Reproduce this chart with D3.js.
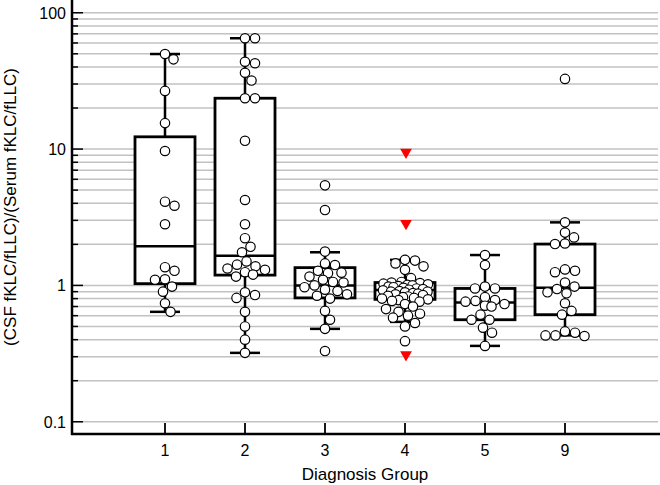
<!DOCTYPE html>
<html>
<head>
<meta charset="utf-8">
<script src="https://cdn.jsdelivr.net/npm/d3@7"></script>
<style>
body { margin: 0; background: #fff; }
text { font-family: Arial, "Liberation Sans", sans-serif; fill: #000; }
</style>
</head>
<body>
<svg id="chart" width="660" height="485"></svg>
<script>
// categories and tick labels
var groups = ['1', '2', '3', '4', '5', '9'];
var yTicks = [0.1, 1, 10, 100];
var yTickLabels = ['0.1', '1', '10', '100'];

// individual ratios
var g1 = [49.8, 45.5, 26.7, 15.5, 9.68, 4.11, 3.84, 2.81, 1.36, 1.28, 1.11, 1.10, 0.98, 0.90, 0.74, 0.64];
var g2 = [65, 65, 43.7, 42.6, 36.3, 31.8, 23.6, 23.6, 11.5, 4.23, 2.81, 2.22, 1.92, 1.75, 1.50, 1.42, 1.38, 1.33,
          1.30, 1.25, 1.20, 1.16, 0.89, 0.85, 0.81, 0.64, 0.50, 0.40, 0.32];
var g3 = [5.42, 3.57, 1.77, 1.45, 1.41, 1.28, 1.24, 1.23, 1.16, 1.10, 1.06, 1.05, 1.0, 0.97, 0.93, 0.91, 0.86,
          0.84, 0.80, 0.65, 0.56, 0.48, 0.33];
var g4 = [1.54, 1.52, 1.45, 1.38, 1.30, 1.13, 1.06, 1.05, 1.04, 1.03, 1.02, 1.01, 1.0, 0.99, 0.98, 0.97, 0.96,
          0.95, 0.94, 0.93, 0.92, 0.91, 0.90, 0.90, 0.89, 0.88, 0.87, 0.86, 0.85, 0.84, 0.83, 0.82, 0.81, 0.80,
          0.79, 0.78, 0.77, 0.76, 0.73, 0.70, 0.67, 0.64, 0.62, 0.60, 0.58, 0.53, 0.50, 0.39];
var g5 = [1.67, 1.41, 0.98, 0.95, 0.95, 0.82, 0.78, 0.77, 0.76, 0.73, 0.71, 0.70, 0.61, 0.56, 0.56, 0.49, 0.45, 0.36];
var g9 = [32.7, 2.90, 2.44, 2.25, 2.03, 2.01, 1.31, 1.28, 1.25, 1.05, 0.98, 0.94, 0.89, 0.875, 0.74, 0.65, 0.61,
          0.46, 0.45, 0.43, 0.43, 0.425];
var values = [g1, g2, g3, g4, g5, g9];

// box plot statistics per group
var whiskLo = [0.64, 0.32, 0.48, 0.54, 0.36, 0.43];
var q1 = [1.03, 1.19, 0.81, 0.79, 0.56, 0.61];
var median = [1.94, 1.65, 1.0, 0.925, 0.75, 0.96];
var q3 = [12.3, 23.6, 1.35, 1.05, 0.95, 2.01];
var whiskHi = [49.8, 65, 1.75, 1.54, 1.67, 2.90];

// red markers in group 4
var flagGroup = '4';
var flagged = [9.5, 2.85, 0.31];

var svg = d3.select('#chart');
var plotL = 72, plotR = 658, plotB = 434, plotT = 0;

var x = d3.scalePoint().domain(groups).range([plotL, plotR]).padding(1.1625);
var y = d3.scaleLog().domain([0.0813, 124]).range([plotB, plotT]);

var r = 4.7;

//grid lines (1..9 per decade)
var gridVals = y.ticks().filter(d => d >= 0.1 - 1e-9);
svg.append('g').attr('class', 'grid')
	.selectAll('line').data(gridVals).enter().append('line')
		.attr('x1', plotL).attr('x2', plotR)
		.attr('y1', d => y(d)).attr('y2', d => y(d))
		.style('stroke', '#c2c2c2')
		.style('stroke-width', 1.5);

//boxes
var boxW = 60, capW = 30;
var g_box = svg.append('g').attr('class', 'boxes');
groups.forEach(function(grp, i) {
	var cx = x(grp);
	g_box.append('line')
		.attr('x1', cx).attr('x2', cx)
		.attr('y1', y(whiskLo[i])).attr('y2', y(whiskHi[i]))
		.style('stroke', '#000').style('stroke-width', 2.5);
	[whiskLo[i], whiskHi[i]].forEach(function(v) {
		g_box.append('line')
			.attr('x1', cx - capW/2).attr('x2', cx + capW/2)
			.attr('y1', y(v)).attr('y2', y(v))
			.style('stroke', '#000').style('stroke-width', 2.5);
	});
	g_box.append('rect')
		.attr('x', cx - boxW/2).attr('width', boxW)
		.attr('y', y(q3[i])).attr('height', y(q1[i]) - y(q3[i]))
		.style('fill', '#fff')
		.style('stroke', '#000').style('stroke-width', 2.8);
	g_box.append('line')
		.attr('x1', cx - boxW/2).attr('x2', cx + boxW/2)
		.attr('y1', y(median[i])).attr('y2', y(median[i]))
		.style('stroke', '#000').style('stroke-width', 2.5);
});

//beeswarm positions, squeezed (overlapping) when a row gets too wide
function swarm(vals, cx) {
	var placed = [];
	var maxOff = 23;
	var dists = [2*r + 0.6, 8, 6.5, 5, 3.5, 2];
	vals.slice().sort((a, b) => b - a).forEach(function(v) {
		var py = y(v);
		var off = 0, found = false;
		for (var j = 0; j < dists.length && !found; j++) {
			var dmin = dists[j];
			for (var k = 0; k < 2*maxOff*2 + 1; k++) {
				var o = (k % 2 ? 1 : -1) * Math.ceil(k/2) * 0.5;
				if (Math.abs(o) > maxOff) break;
				var ok = placed.every(p => (p.dx - o)*(p.dx - o) + (p.y - py)*(p.y - py) >= dmin*dmin);
				if (ok) { off = o; found = true; break; }
			}
		}
		placed.push({dx: off, y: py});
	});
	return placed.map(p => ({x: cx + p.dx, y: p.y}));
}

var g_pts = svg.append('g').attr('class', 'points');
groups.forEach(function(grp, i) {
	g_pts.selectAll('circle.g' + i).data(swarm(values[i], x(grp))).enter().append('circle')
		.attr('class', 'g' + i)
		.attr('cx', d => d.x).attr('cy', d => d.y).attr('r', r)
		.style('fill', '#fff')
		.style('stroke', '#000')
		.style('stroke-width', 1.2);
});

//red triangles
var tri = d3.symbol().type(d3.symbolTriangle).size(60);
svg.append('g').attr('class', 'flags')
	.selectAll('path').data(flagged).enter().append('path')
		.attr('d', tri)
		.attr('transform', d => 'translate(' + (x(flagGroup) + 1) + ',' + y(d) + ') rotate(180)')
		.style('fill', '#ff0000');

//axes
var g_axes = svg.append('g').attr('class', 'axes');
g_axes.append('line')
	.attr('x1', plotL).attr('x2', plotL).attr('y1', plotT).attr('y2', plotB + 1)
	.style('stroke', '#000').style('stroke-width', 2.5);
g_axes.append('line')
	.attr('x1', plotL - 1).attr('x2', 660).attr('y1', plotB).attr('y2', plotB)
	.style('stroke', '#000').style('stroke-width', 2.5);

// y ticks: major long, minor short, pointing inward
g_axes.selectAll('line.ytick').data(gridVals).enter().append('line')
	.attr('class', 'ytick')
	.attr('x1', plotL)
	.attr('x2', d => plotL + (yTicks.indexOf(d) >= 0 ? 11 : 6))
	.attr('y1', d => y(d)).attr('y2', d => y(d))
	.style('stroke', '#000').style('stroke-width', 1.5);

g_axes.selectAll('text.ylab').data(yTicks).enter().append('text')
	.attr('class', 'ylab')
	.attr('x', plotL - 6).attr('y', d => y(d) + 6)
	.attr('text-anchor', 'end')
	.style('font-size', '16px')
	.text((d, i) => yTickLabels[i]);

g_axes.selectAll('line.xtick').data(groups).enter().append('line')
	.attr('class', 'xtick')
	.attr('x1', d => x(d)).attr('x2', d => x(d))
	.attr('y1', plotB).attr('y2', plotB - 11)
	.style('stroke', '#000').style('stroke-width', 1.8);

g_axes.selectAll('text.xlab').data(groups).enter().append('text')
	.attr('class', 'xlab')
	.attr('x', d => x(d)).attr('y', 456)
	.attr('text-anchor', 'middle')
	.style('font-size', '16px')
	.text(d => d);

svg.append('text')
	.attr('x', (plotL + plotR)/2).attr('y', 480)
	.attr('text-anchor', 'middle')
	.style('font-size', '17px')
	.text('Diagnosis Group');

svg.append('text')
	.attr('transform', 'translate(16,207) rotate(-90)')
	.attr('text-anchor', 'middle')
	.style('font-size', '17px')
	.text('(CSF fKLC/fLLC)/(Serum fKLC/fLLC)');
</script>
</body>
</html>
